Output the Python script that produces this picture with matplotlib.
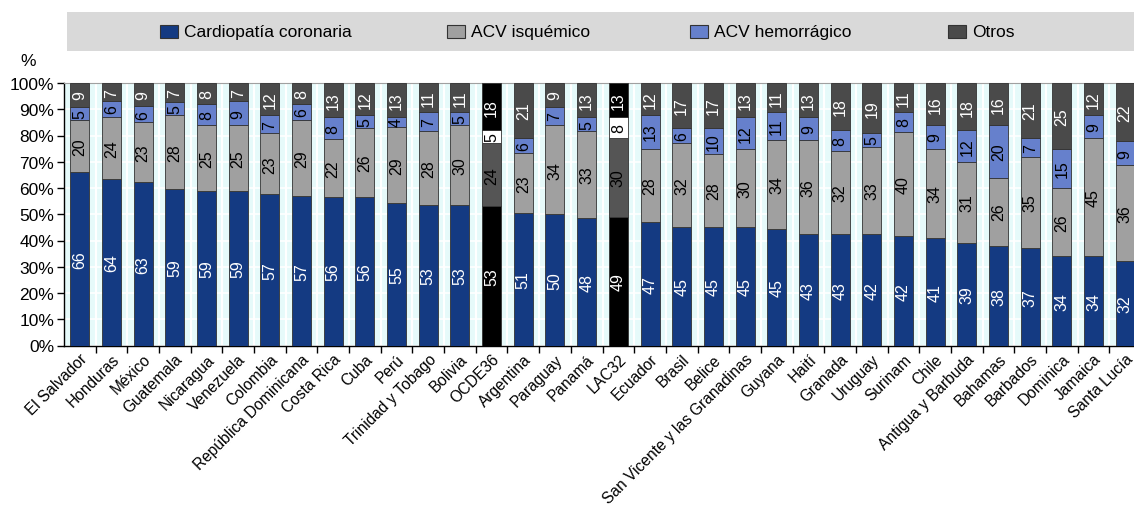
import numpy as np
import matplotlib
matplotlib.use("Agg")
import matplotlib.pyplot as plt
import matplotlib.transforms as mtransforms
from matplotlib.patches import Rectangle

plt.rcParams['font.family'] = ['Liberation Sans', 'DejaVu Sans']

paises = ["El Salvador", "Honduras", "México", "Guatemala", "Nicaragua", "Venezuela",
          "Colombia", "República Dominicana", "Costa Rica", "Cuba", "Perú",
          "Trinidad y Tobago", "Bolivia", "OCDE36", "Argentina", "Paraguay", "Panamá",
          "LAC32", "Ecuador", "Brasil", "Belice", "San Vicente y las Granadinas",
          "Guyana", "Haití", "Granada", "Uruguay", "Surinam", "Chile",
          "Antigua y Barbuda", "Bahamas", "Barbados", "Dominica", "Jamaica", "Santa Lucía"]
cardiopatia = [66, 64, 63, 59, 59, 59, 57, 57, 56, 56, 55, 53, 53, 53, 51, 50, 48,
               49, 47, 45, 45, 45, 45, 43, 43, 42, 42, 41, 39, 38, 37, 34, 34, 32]
isquemico = [20, 24, 23, 28, 25, 25, 23, 29, 22, 26, 29, 28, 30, 24, 23, 34, 33,
             30, 28, 32, 28, 30, 34, 36, 32, 33, 40, 34, 31, 26, 35, 26, 45, 36]
hemorragico = [5, 6, 6, 5, 8, 9, 7, 6, 8, 5, 4, 7, 5, 5, 6, 7, 5,
               8, 13, 6, 10, 12, 11, 9, 8, 5, 8, 9, 12, 20, 7, 15, 9, 9]
otros = [9, 7, 9, 7, 8, 7, 12, 8, 13, 12, 13, 11, 11, 18, 21, 9, 13,
         13, 12, 17, 17, 13, 11, 13, 18, 19, 11, 16, 18, 16, 21, 25, 12, 22]
series_nombres = ["Cardiopatía coronaria", "ACV isquémico", "ACV hemorrágico", "Otros"]
destacados = ["OCDE36", "LAC32"]

colores = ["#143a82", "#a0a0a0", "#6680cc", "#4a4a4a"]
colores_dest = ["#000000", "#555555", "#ffffff", "#000000"]
texto = ["white", "black", "black", "white"]
texto_dest = ["white", "black", "black", "white"]

W, H = 1134, 506
fig = plt.figure(figsize=(W / 100, H / 100), dpi=100)
ax = fig.add_axes([64 / W, 1 - 346.5 / H, 1077 / W, 262.5 / H])
ax.set_facecolor("#e6fafa")

datos = np.array([cardiopatia, isquemico, hemorragico, otros], dtype=float)
totales = datos.sum(axis=0)
alturas = datos / totales * 100
x = np.arange(len(paises))
base = np.zeros(len(paises))
for k in range(4):
    cols = [colores_dest[k] if p in destacados else colores[k] for p in paises]
    ax.bar(x, alturas[k], 0.6, bottom=base, color=cols, edgecolor="#333333",
           linewidth=0.6, zorder=3)
    for i, p in enumerate(paises):
        c = texto_dest[k] if p in destacados else texto[k]
        ax.text(x[i], base[i] + alturas[k][i] / 2, str(int(datos[k][i])),
                rotation=90, ha="center", va="center", fontsize=11.5, color=c, zorder=4)
    base += alturas[k]

ax.set_xlim(-0.5, len(paises) - 0.5)
ax.set_ylim(0, 100)
ax.set_yticks(np.arange(0, 101, 10))
ax.set_yticklabels([f"{v}%" for v in range(0, 101, 10)], fontsize=12.5)
ax.set_xticks(x)
ax.set_xticklabels(paises, rotation=45, ha="right", rotation_mode="anchor", fontsize=11.2)
desplaza = mtransforms.ScaledTranslation(7 / 100, 0, fig.dpi_scale_trans)
for lab in ax.get_xticklabels():
    lab.set_transform(lab.get_transform() + desplaza)
ax.set_xticks(x[:-1] + 0.5, minor=True)
ax.tick_params(axis="x", which="major", length=0, pad=4)
ax.tick_params(axis="x", which="minor", length=5, width=1, direction="out")
ax.tick_params(axis="y", length=5, width=1, direction="out", pad=2)
ax.set_axisbelow(True)
ax.yaxis.grid(True, color="white", linewidth=1.2)
ax.xaxis.grid(True, which="minor", color="white", linewidth=1.5)
ax.spines["right"].set_visible(False)
ax.spines["top"].set_color("#a0a0a0")
ax.spines["left"].set_linewidth(1)
ax.spines["bottom"].set_linewidth(1)

fig.text(28 / W, 1 - 62 / H, "%", fontsize=12.5, ha="center", va="center")

# leyenda
fig.add_artist(Rectangle((67 / W, 1 - 52 / H), (W - 67) / W, 39 / H,
                         transform=fig.transFigure, facecolor="#d9d9d9", edgecolor="none"))
leg_x = [160, 447, 690, 948]
for k, nombre in enumerate(series_nombres):
    fig.add_artist(Rectangle((leg_x[k] / W, 1 - 39 / H), 18 / W, 13 / H,
                             transform=fig.transFigure, facecolor=colores[k],
                             edgecolor="#333333", linewidth=0.8))
    fig.text((leg_x[k] + 24) / W, 1 - 32.5 / H, nombre, fontsize=12.5,
             ha="left", va="center")

fig.savefig("out.png", dpi=100)
